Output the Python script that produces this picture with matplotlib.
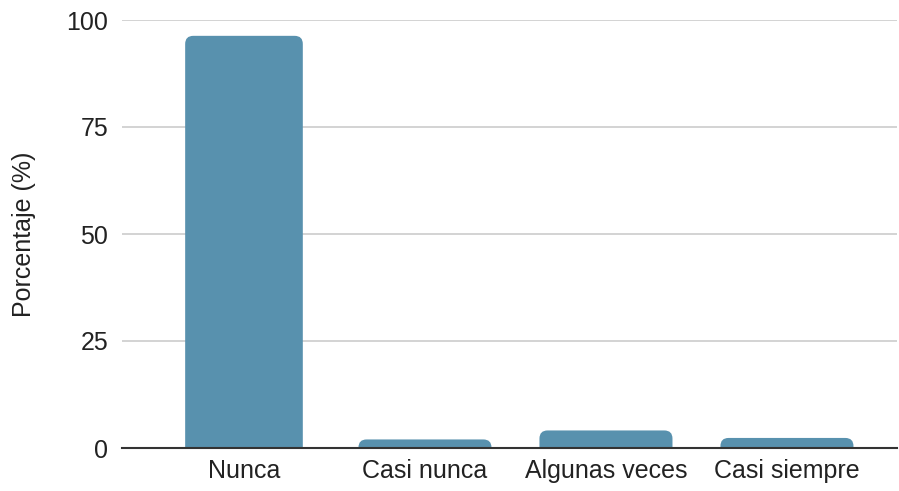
import matplotlib.pyplot as plt
from matplotlib.patches import FancyBboxPatch

categories = ["Nunca", "Casi nunca", "Algunas veces", "Casi siempre"]
values = [96.3, 2.0, 4.1, 2.35]
yticks = [0, 25, 50, 75, 100]

plt.rcParams['font.family'] = ['Liberation Sans', 'DejaVu Sans']

fig = plt.figure(figsize=(8.99, 4.91), dpi=100)
ax = fig.add_axes([122 / 899, 43 / 491, 775 / 899, 428 / 491])

color = '#5891ae'
widths = [0.65, 0.735, 0.735, 0.735]
xs = range(len(categories))
# barras con esquinas superiores redondeadas (la parte inferior queda recortada)
for x, v, w in zip(xs, values, widths):
    p = FancyBboxPatch((x - w / 2, -3), w, v + 3,
                       boxstyle="round,pad=0,rounding_size=0.045",
                       mutation_aspect=42, fc=color, ec='none', zorder=3)
    ax.add_patch(p)

ax.set_xlim(-0.674, 3.608)
ax.set_ylim(0, 100)
ax.set_xticks(list(xs))
ax.set_xticklabels(categories, fontsize=18, color='#222222')
ax.set_yticks(yticks)
ax.set_yticklabels([str(t) for t in yticks], fontsize=18, color='#222222')
ax.tick_params(length=0, pad=10)
ax.tick_params(axis='x', pad=8)
ax.grid(axis='y', color='#cccccc', lw=1.2, zorder=0)
for s in ['top', 'right', 'left']:
    ax.spines[s].set_visible(False)
ax.spines['bottom'].set_color('#333333')
ax.spines['bottom'].set_linewidth(1.5)
ax.spines['bottom'].set_zorder(4)
ax.set_ylabel("Porcentaje (%)", fontsize=18, labelpad=22, color='#222222')

fig.savefig("out.png", dpi=100)
